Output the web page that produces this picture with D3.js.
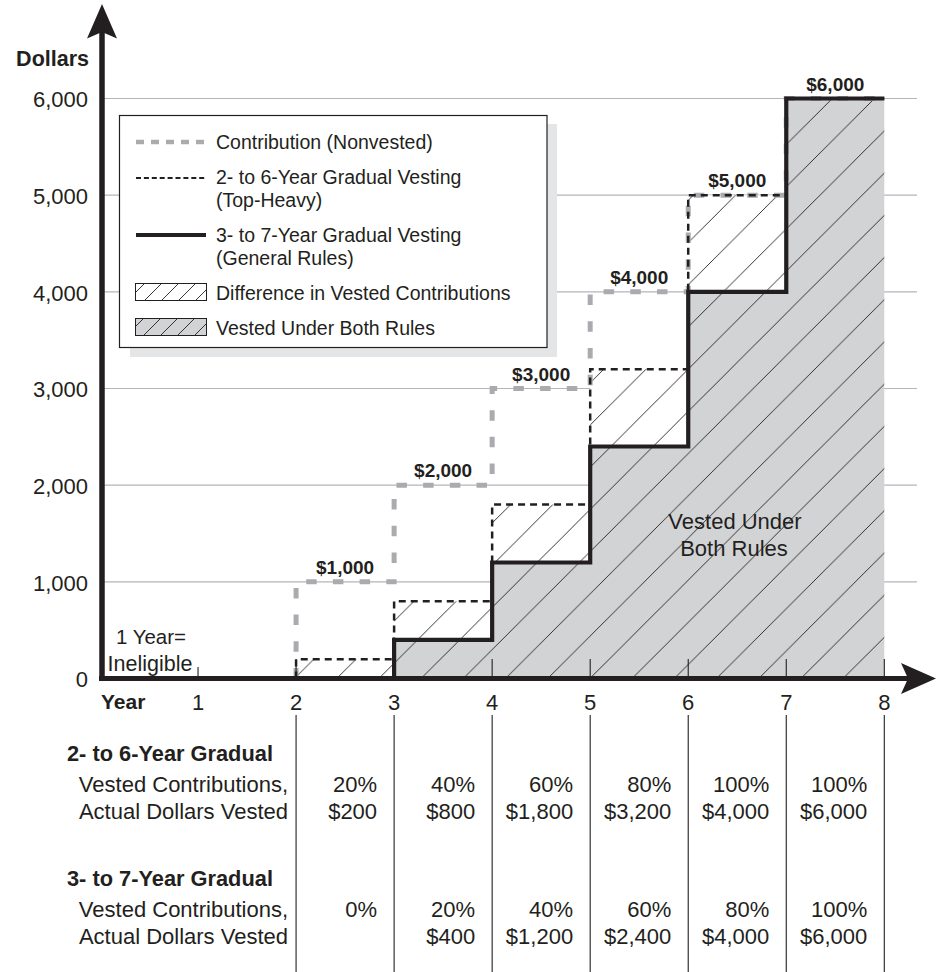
<!DOCTYPE html>
<html>
<head>
<meta charset="utf-8">
<script src="https://cdn.jsdelivr.net/npm/d3@7"></script>
<style>
  html, body { margin: 0; padding: 0; background: #fff; }
  svg text { font-family: "Liberation Sans", Arial, Helvetica, sans-serif; fill: #231f20; }
</style>
</head>
<body>
<svg id="chart" width="943" height="972"></svg>
<script>
// ---------- data ----------
const intervalStarts = [2, 3, 4, 5, 6, 7];
const contribution   = [1000, 2000, 3000, 4000, 5000, 6000];
const topHeavy       = [200, 800, 1800, 3200, 5000, 6000];
const general        = [0, 400, 1200, 2400, 4000, 6000];
const contribLabels  = ["$1,000", "$2,000", "$3,000", "$4,000", "$5,000", "$6,000"];
const yTickValues    = [0, 1000, 2000, 3000, 4000, 5000, 6000];
const xTickValues    = [1, 2, 3, 4, 5, 6, 7, 8];
const tableLines     = [2, 3, 4, 5, 6, 7, 8];
const topPct         = ["20%", "40%", "60%", "80%", "100%", "100%"];
const topDollars     = ["$200", "$800", "$1,800", "$3,200", "$4,000", "$6,000"];
const genPct         = ["0%", "20%", "40%", "60%", "80%", "100%"];
const genDollars     = ["", "$400", "$1,200", "$2,400", "$4,000", "$6,000"];
const legendItems    = [
  { type: "contrib", lines: ["Contribution (Nonvested)"] },
  { type: "top", lines: ["2- to 6-Year Gradual Vesting", "(Top-Heavy)"] },
  { type: "general", lines: ["3- to 7-Year Gradual Vesting", "(General Rules)"] },
  { type: "diff", lines: ["Difference in Vested Contributions"] },
  { type: "both", lines: ["Vested Under Both Rules"] }
];

// ---------- setup ----------
const svg = d3.select("#chart");
const x = d3.scaleLinear().domain([0, 8]).range([100, 884.3]);
const y = d3.scaleLinear().domain([0, 6000]).range([678.5, 98.5]);
const INK = "#231f20";
const GRAYFILL = "#d2d3d5";
const DASHGRAY = "#a9abae";

const defs = svg.append("defs");
function hatch(id, s, ox) {
  const p = defs.append("pattern").attr("id", id)
    .attr("patternUnits", "userSpaceOnUse")
    .attr("x", ox).attr("y", 0).attr("width", s).attr("height", s);
  p.append("path")
    .attr("d", `M${-s/4},${s/4} L${s/4},${-s/4} M0,${s} L${s},0 M${3*s/4},${5*s/4} L${5*s/4},${3*s/4}`)
    .attr("stroke", INK).attr("stroke-width", 0.9).attr("fill", "none");
}
hatch("hatchMain", 42.2, 2.4);
hatch("hatchLegend", 17, 3);

const last = intervalStarts.length - 1;
const pts = vals => [[intervalStarts[0], 0]]
  .concat(intervalStarts.map((s, i) => [s, vals[i]]))
  .concat([[8, vals[last]]]);

const stepLine = d3.line().x(d => x(d[0])).y(d => y(d[1])).curve(d3.curveStepAfter);

// ---------- gridlines ----------
svg.append("g").selectAll("line").data(yTickValues.filter(v => v > 0)).join("line")
  .attr("x1", 104).attr("x2", 917)
  .attr("y1", d => y(d)).attr("y2", d => y(d))
  .attr("stroke", "#b3b5b8").attr("stroke-width", 1.2);

// ---------- areas ----------
const areaPts = intervalStarts.map((s, i) => ({ x: s, lo: general[i], hi: topHeavy[i] }))
  .concat([{ x: 8, lo: general[last], hi: topHeavy[last] }]);

const bothArea = d3.area().x(d => x(d.x)).y0(y(0)).y1(d => y(d.lo)).curve(d3.curveStepAfter);
const diffArea = d3.area().x(d => x(d.x)).y0(d => y(d.lo)).y1(d => y(d.hi)).curve(d3.curveStepAfter);

svg.append("path").attr("d", bothArea(areaPts)).attr("fill", GRAYFILL);
svg.append("path").attr("d", bothArea(areaPts)).attr("fill", "url(#hatchMain)");
svg.append("path").attr("d", diffArea(areaPts)).attr("fill", "#fff");
svg.append("path").attr("d", diffArea(areaPts)).attr("fill", "url(#hatchMain)");

// ---------- step lines ----------
svg.append("path").attr("d", stepLine(pts(contribution)))
  .attr("fill", "none").attr("stroke", DASHGRAY).attr("stroke-width", 5)
  .attr("stroke-dasharray", "10.5,16.2");
svg.append("path").attr("d", stepLine(pts(topHeavy)))
  .attr("fill", "none").attr("stroke", INK).attr("stroke-width", 2.5)
  .attr("stroke-dasharray", "7,5");
svg.append("path").attr("d", stepLine(pts(general)))
  .attr("fill", "none").attr("stroke", INK).attr("stroke-width", 4.2);

// contribution labels
svg.append("g").selectAll("text").data(intervalStarts).join("text")
  .attr("x", (d) => x(d + 0.5))
  .attr("y", (d, i) => y(contribution[i]) - 14.5)
  .attr("dy", "0.35em")
  .attr("text-anchor", "middle")
  .attr("font-size", 19).attr("font-weight", "bold")
  .text((d, i) => contribLabels[i]);

// ---------- x ticks and table lines ----------
svg.append("g").selectAll("line").data(xTickValues).join("line")
  .attr("x1", d => x(d)).attr("x2", d => x(d))
  .attr("y1", d => d === 1 ? 667 : 659).attr("y2", 679)
  .attr("stroke", INK).attr("stroke-width", 1.1);

svg.append("g").selectAll("line").data(tableLines).join("line")
  .attr("x1", d => x(d)).attr("x2", d => x(d))
  .attr("y1", 715).attr("y2", 972)
  .attr("stroke", INK).attr("stroke-width", 1.1);

// ---------- axes ----------
svg.append("line").attr("x1", 99).attr("x2", 910).attr("y1", y(0)).attr("y2", y(0))
  .attr("stroke", INK).attr("stroke-width", 5);
svg.append("path")
  .attr("d", `M936,${y(0)} L901,${y(0)-15.5} L908,${y(0)} L901,${y(0)+15.5} Z`)
  .attr("fill", INK);
svg.append("line").attr("x1", 102).attr("x2", 102).attr("y1", y(0) + 2.5).attr("y2", 30)
  .attr("stroke", INK).attr("stroke-width", 5.5);
svg.append("path")
  .attr("d", "M102,4 L87,38.5 L102,32 L117,38.5 Z")
  .attr("fill", INK);

// y tick labels
svg.append("g").selectAll("text").data(yTickValues).join("text")
  .attr("x", 88).attr("y", d => y(d) + 1)
  .attr("dy", "0.35em").attr("text-anchor", "end")
  .attr("font-size", 22)
  .text(d => d3.format(",")(d));
svg.append("text").attr("x", 89).attr("y", 58).attr("dy", "0.35em")
  .attr("text-anchor", "end").attr("font-size", 21.5).attr("font-weight", "bold")
  .text("Dollars");

// x tick labels
svg.append("g").selectAll("text").data(xTickValues).join("text")
  .attr("x", d => x(d)).attr("y", 702).attr("dy", "0.35em")
  .attr("text-anchor", "middle").attr("font-size", 22)
  .text(d => d);
svg.append("text").attr("x", 101).attr("y", 702).attr("dy", "0.35em")
  .attr("font-size", 21).attr("font-weight", "bold").text("Year");

// annotations
svg.append("text").attr("x", 151).attr("y", 637).attr("dy", "0.35em")
  .attr("text-anchor", "middle").attr("font-size", 20.5).text("1 Year=");
svg.append("text").attr("x", 150).attr("y", 663).attr("dy", "0.35em")
  .attr("text-anchor", "middle").attr("font-size", 21.5).text("Ineligible");
svg.append("text").attr("x", 735).attr("y", 521).attr("dy", "0.35em")
  .attr("text-anchor", "middle").attr("font-size", 22).text("Vested Under");
svg.append("text").attr("x", 734).attr("y", 548).attr("dy", "0.35em")
  .attr("text-anchor", "middle").attr("font-size", 22).text("Both Rules");

// ---------- table ----------
const tbl = svg.append("g").attr("font-size", 22);
function tableBlock(title, pct, dol, y0) {
  tbl.append("text").attr("x", 67).attr("y", y0).attr("dy", "0.35em")
    .attr("font-weight", "bold").attr("font-size", 21.8).text(title);
  tbl.append("text").attr("x", 288).attr("y", y0 + 31).attr("dy", "0.35em")
    .attr("text-anchor", "end").text("Vested Contributions,");
  tbl.append("text").attr("x", 288).attr("y", y0 + 58).attr("dy", "0.35em")
    .attr("text-anchor", "end").text("Actual Dollars Vested");
  tbl.append("g").selectAll("text").data(intervalStarts).join("text")
    .attr("x", d => x(d + 0.5) + 32).attr("y", y0 + 31).attr("dy", "0.35em")
    .attr("text-anchor", "end").text((d, i) => pct[i]);
  tbl.append("g").selectAll("text").data(intervalStarts).join("text")
    .attr("x", d => x(d + 0.5) + 32).attr("y", y0 + 58).attr("dy", "0.35em")
    .attr("text-anchor", "end").text((d, i) => dol[i]);
}
tableBlock("2- to 6-Year Gradual", topPct, topDollars, 753);
tableBlock("3- to 7-Year Gradual", genPct, genDollars, 878);

// ---------- legend ----------
const lg = svg.append("g");
lg.append("rect").attr("x", 130).attr("y", 124).attr("width", 427).attr("height", 233)
  .attr("fill", "#e4e5e6");
lg.append("rect").attr("x", 119.5).attr("y", 115.5).attr("width", 427.5).attr("height", 232)
  .attr("fill", "#fff").attr("stroke", INK).attr("stroke-width", 1.2);

const rowY = [142, 177, 235, 293, 328];
legendItems.forEach((it, i) => {
  const cy = rowY[i];
  if (it.type === "contrib") {
    lg.append("line").attr("x1", 136).attr("x2", 206).attr("y1", cy).attr("y2", cy)
      .attr("stroke", DASHGRAY).attr("stroke-width", 4.5).attr("stroke-dasharray", "8,7");
  } else if (it.type === "top") {
    lg.append("line").attr("x1", 136).attr("x2", 206).attr("y1", cy + 1).attr("y2", cy + 1)
      .attr("stroke", INK).attr("stroke-width", 2).attr("stroke-dasharray", "5,2.9");
  } else if (it.type === "general") {
    lg.append("line").attr("x1", 136).attr("x2", 206).attr("y1", cy).attr("y2", cy)
      .attr("stroke", INK).attr("stroke-width", 4);
  } else {
    const r = { x: 135.5, y: cy - 9.5, w: 71, h: 17 };
    if (it.type === "both") {
      lg.append("rect").attr("x", r.x).attr("y", r.y).attr("width", r.w).attr("height", r.h)
        .attr("fill", GRAYFILL);
    }
    lg.append("rect").attr("x", r.x).attr("y", r.y).attr("width", r.w).attr("height", r.h)
      .attr("fill", "url(#hatchLegend)").attr("stroke", INK).attr("stroke-width", 1);
  }
  it.lines.forEach((t, j) => {
    lg.append("text").attr("x", 216).attr("y", cy + j * 23.5).attr("dy", "0.35em")
      .attr("font-size", 19.5).text(t);
  });
});
</script>
</body>
</html>
